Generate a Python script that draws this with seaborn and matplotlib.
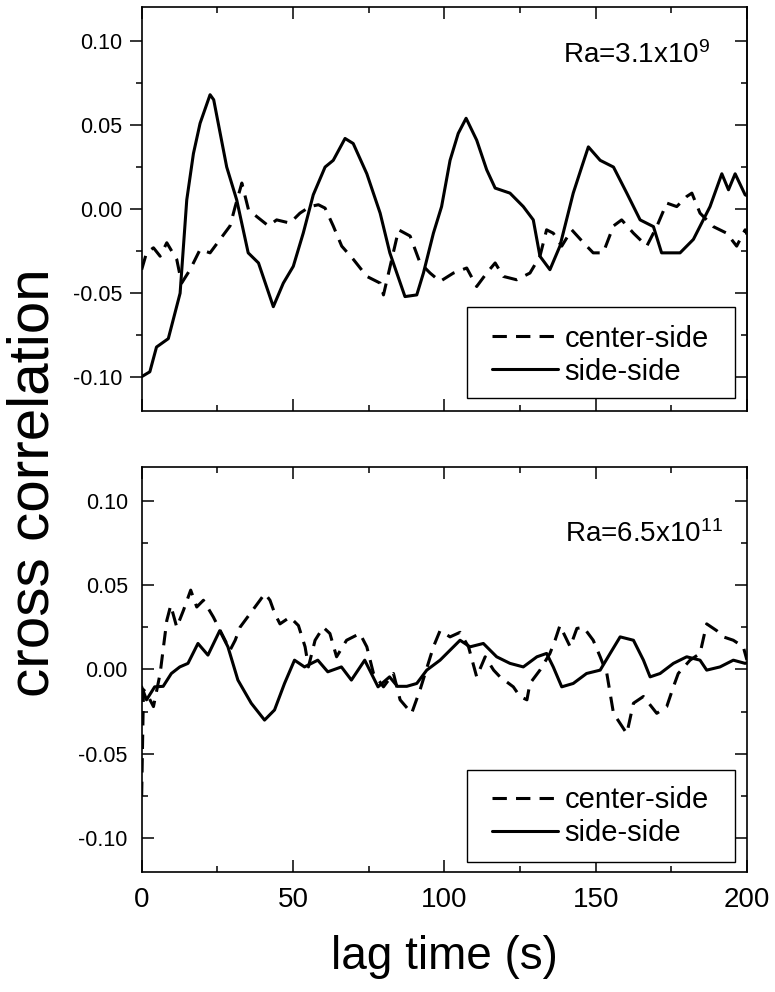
import numpy as np
import matplotlib
matplotlib.use("Agg")
import matplotlib.pyplot as plt
from matplotlib.ticker import MultipleLocator
from matplotlib.patches import Rectangle
import seaborn as sns

# ---------------- data ----------------
# top panel, Ra = 3.1x10^9
top_side_t = [0, 2.7, 4.9, 8.8, 12.7, 14.9, 17.1, 19.3, 22.6, 23.8,
              28.1, 31.4, 35.2, 38.6, 43.5, 46.8, 50.1, 53.4, 56.7, 60.6,
              63.3, 67.2, 69.9, 74.4, 78.8, 82, 87, 90.9, 93.1, 96.4,
              99.1, 101.9, 104.6, 107.2, 110.7, 114, 116.8, 121.7, 126.1, 129.4,
              131.6, 134.9, 138.2, 142.6, 145.4, 147.6, 151.5, 155.9, 160.3, 164.7,
              169.1, 171.8, 177.9, 182.3, 187.8, 191.7, 193.9, 196.1, 199.4, 200]
top_side_v = [-0.0996, -0.0967, -0.082, -0.077, -0.05, 0.0055, 0.033, 0.051, 0.068, 0.065,
              0.025, 0.0055, -0.026, -0.032, -0.058, -0.044, -0.034, -0.0142, 0.0085, 0.025,
              0.029, 0.042, 0.039, 0.021, -0.0024, -0.026, -0.052, -0.051, -0.038, -0.0143,
              0.0015, 0.029, 0.045, 0.054, 0.041, 0.0234, 0.0125, 0.0095, 0.0015, -0.0064,
              -0.028, -0.036, -0.022, 0.0095, 0.025, 0.037, 0.029, 0.025, 0.0095, -0.0064,
              -0.0104, -0.026, -0.026, -0.018, 0.0015, 0.021, 0.0115, 0.021, 0.0085, 0.008]

top_center_t = [0, 1.6, 3.9, 6.1, 8.3, 11.6, 13.2, 16, 19.3, 22.6,
                25.9, 29.2, 30.9, 33.1, 35.3, 38, 41.9, 44.6, 49, 52.3,
                55.6, 58.4, 60.6, 63.3, 66.1, 70, 74.4, 78.8, 79.9, 82.1,
                84.9, 88.7, 92, 95.3, 98.6, 103, 107.4, 110.7, 114, 116.8,
                119.5, 123.9, 128.3, 131.6, 133.8, 136, 138.8, 142.1, 146, 149.2,
                152.5, 155.9, 158.6, 162.5, 166.9, 170.2, 173.5, 176.8, 180.1, 181.8,
                184.5, 188.9, 193.3, 196.6, 199.4, 200]
top_center_v = [-0.036, -0.026, -0.023, -0.028, -0.020, -0.030, -0.044, -0.036, -0.024, -0.026,
                -0.018, -0.010, 0.0015, 0.0155, -0.0004, -0.0044, -0.010, -0.0064, -0.0083, -0.0024,
                0.0015, 0.0026, 0.0006, -0.010, -0.022, -0.030, -0.040, -0.044, -0.051, -0.034,
                -0.0123, -0.016, -0.032, -0.038, -0.043, -0.038, -0.035, -0.046, -0.038, -0.032,
                -0.040, -0.042, -0.038, -0.028, -0.0123, -0.0143, -0.022, -0.0123, -0.020, -0.026,
                -0.026, -0.010, -0.0064, -0.0143, -0.022, -0.0104, 0.0036, 0.0015, 0.0075, 0.0095,
                -0.0024, -0.0104, -0.0143, -0.022, -0.0123, -0.015]

# bottom panel, Ra = 6.5x10^11
bot_side_t = [0, 1.6, 4.3, 7.1, 9.8, 12.6, 15.3, 18.6, 21.9, 25.8,
              28.5, 31.8, 36.2, 40.6, 43.9, 47.2, 50.5, 53.8, 58.2, 61.5,
              66, 69.3, 73.7, 78.1, 81.9, 84.5, 87.6, 90.9, 94.2, 98.6,
              101.9, 105.2, 108.5, 112.9, 117.3, 121.7, 126.1, 130.6, 133.8, 136,
              138.8, 142.6, 147, 151.5, 154.8, 158.1, 162.5, 165.8, 168, 171.3,
              175.7, 180.1, 184.5, 186.7, 191.1, 195.5, 199.4, 200]
bot_side_v = [-0.0103, -0.018, -0.0103, -0.010, -0.0024, 0.0015, 0.0036, 0.0154, 0.0085, 0.023,
              0.0134, -0.0063, -0.020, -0.030, -0.024, -0.0083, 0.0055, 0.0015, 0.0055, -0.0014,
              0.0015, -0.0063, 0.0055, -0.0103, -0.0044, -0.010, -0.010, -0.0083, -0.0004, 0.0055,
              0.0114, 0.0173, 0.0134, 0.0154, 0.0075, 0.0036, 0.0015, 0.0075, 0.0095, 0.0015,
              -0.0103, -0.0083, -0.0024, -0.0004, 0.0095, 0.0193, 0.0173, 0.0055, -0.0044, -0.0024,
              0.0036, 0.0075, 0.0055, -0.0004, 0.0015, 0.0055, 0.0036, 0.004]

bot_center_t = [0, 0.6, 1.6, 3.9, 6.1, 8.3, 9.6, 11.6, 13.8, 16.2,
                18.2, 20.4, 23.7, 27, 29.2, 30.9, 32.5, 35.8, 39.1, 40.7,
                42.4, 44, 45.7, 49, 51.8, 54, 55.1, 57.3, 60, 62.2,
                64.4, 67.7, 72.1, 74.4, 76.6, 79.9, 83.2, 85.4, 89.2, 92,
                96.4, 98.6, 101.9, 105.2, 108, 110.7, 113.5, 116.3, 118.4, 122.8,
                125, 127.3, 128.3, 131.6, 134.9, 136.6, 138.2, 141.6, 143.8, 146,
                149.2, 151.5, 153.7, 155.9, 158.1, 160.3, 162.5, 165.8, 170.2, 173.5,
                175.7, 177.3, 181.2, 184.5, 186.7, 190, 192.2, 195.5, 198.8, 200]
bot_center_v = [-0.075, -0.012, -0.014, -0.022, -0.0024, 0.029, 0.038, 0.025, 0.035, 0.047,
                0.037, 0.041, 0.031, 0.0193, 0.0114, 0.0173, 0.025, 0.033, 0.041, 0.045,
                0.041, 0.033, 0.027, 0.031, 0.026, 0.0134, 0.0015, 0.0173, 0.025, 0.0213,
                0.0075, 0.0173, 0.0213, 0.0134, -0.0024, -0.0103, -0.0024, -0.018, -0.026, -0.012,
                0.0134, 0.023, 0.0193, 0.022, 0.0134, -0.0044, 0.0075, -0.0004, -0.0044, -0.0103,
                -0.016, -0.018, -0.0083, -0.0004, 0.0095, 0.0173, 0.026, 0.0134, 0.0243, 0.025,
                0.0173, 0.0075, -0.0024, -0.026, -0.032, -0.038, -0.020, -0.016, -0.026, -0.022,
                -0.0103, -0.0024, 0.0055, 0.0095, 0.027, 0.023, 0.0193, 0.0173, 0.0134, 0.0055]

labels = ["center-side", "side-side"]
ra_texts = ["Ra=3.1x10$^{9}$", "Ra=6.5x10$^{11}$"]
x_ticks = [0, 50, 100, 150, 200]
y_ticks = [-0.10, -0.05, 0.00, 0.05, 0.10]
y_ticklabels = ["-0.10", "-0.05", "0.00", "0.05", "0.10"]

# ---------------- style ----------------
sns.set_style("ticks")
plt.rcParams["font.family"] = ["Liberation Sans", "DejaVu Sans"]
plt.rcParams["mathtext.fontset"] = "custom"
plt.rcParams["mathtext.rm"] = "Liberation Sans"
plt.rcParams["mathtext.it"] = "Liberation Sans"
plt.rcParams["mathtext.default"] = "regular"
plt.rcParams["text.color"] = "black"
plt.rcParams["axes.labelcolor"] = "black"
plt.rcParams["xtick.color"] = "black"
plt.rcParams["ytick.color"] = "black"

fig = plt.figure(figsize=(7.75, 9.92), dpi=100)
ax_top = fig.add_axes([0.1828, 0.5857, 0.7810, 0.4070])
ax_bot = fig.add_axes([0.1828, 0.1210, 0.7810, 0.4083])

LW = 2.2
DASH = (4.7, 3.0)

panels = [
    # ax, center t, center v, side t, side v, Ra text, text x, text y, left ticks out,
    # legend box (x0, y0, x1, y1) axes fraction, legend anchor
    (ax_top, top_center_t, top_center_v, top_side_t, top_side_v, ra_texts[0], 188, 0.087, True,
     (0.537, 0.0315, 0.980, 0.258), (0.578, 0.214)),
    (ax_bot, bot_center_t, bot_center_v, bot_side_t, bot_side_v, ra_texts[1], 192, 0.0755, False,
     (0.537, 0.0254, 0.980, 0.252), (0.578, 0.212)),
]

for ax, ct, cv, st, sv, ra, ra_x, ra_y, left_out, box, anchor in panels:
    sns.lineplot(x=ct, y=cv, ax=ax, color="black", linewidth=LW,
                 estimator=None, sort=False, label=labels[0])
    ax.lines[-1].set_dashes(DASH)
    sns.lineplot(x=st, y=sv, ax=ax, color="black", linewidth=LW,
                 estimator=None, sort=False, label=labels[1])

    ax.set_xlim(0, 200)
    ax.set_ylim(-0.12, 0.12)
    ax.set_xlabel("")
    ax.set_ylabel("")
    ax.set_xticks(x_ticks)
    ax.xaxis.set_minor_locator(MultipleLocator(25))
    ax.set_yticks(y_ticks)
    ax.set_yticklabels(y_ticklabels)
    ax.yaxis.set_minor_locator(MultipleLocator(0.025))

    for sp in ax.spines.values():
        sp.set_visible(True)
        sp.set_linewidth(1.2)
        sp.set_color("black")

    ax.tick_params(axis="x", which="both", direction="in", top=True, bottom=True,
                   width=1.1, color="black", labelcolor="black")
    ax.tick_params(axis="x", which="major", length=8.6, labelsize=20, pad=11)
    ax.tick_params(axis="x", which="minor", length=4.5)

    if left_out:
        ax.tick_params(axis="y", which="both", direction="out", left=True, right=False,
                       width=1.1, color="black", labelcolor="black")
        ax.tick_params(axis="y", which="major", length=8.6, labelsize=15.5, pad=5.5)
        ax.tick_params(axis="y", which="minor", length=4.5)
        sec = ax.secondary_yaxis("right")
        sec.set_yticks(y_ticks)
        sec.yaxis.set_minor_locator(MultipleLocator(0.025))
        sec.tick_params(axis="y", which="both", direction="in", labelright=False,
                        width=1.1, color="black")
        sec.tick_params(axis="y", which="major", length=8.6)
        sec.tick_params(axis="y", which="minor", length=4.5)
        sec.spines["right"].set_linewidth(1.2)
    else:
        ax.tick_params(axis="y", which="both", direction="in", left=True, right=True,
                       width=1.1, color="black", labelcolor="black")
        ax.tick_params(axis="y", which="major", length=8.6, labelsize=15.5, pad=10)
        ax.tick_params(axis="y", which="minor", length=4.5)

    if ax is ax_top:
        ax.tick_params(axis="x", labelbottom=False)

    ax.text(ra_x, ra_y, ra, ha="right", va="baseline", fontsize=20, color="black")

    # legend frame drawn as its own rectangle (reference box is wider than its content)
    x0, y0, x1, y1 = box
    ax.add_patch(Rectangle((x0, y0), x1 - x0, y1 - y0, transform=ax.transAxes,
                           facecolor="white", edgecolor="black", linewidth=1.0, zorder=4))
    leg = ax.legend(loc="upper left", bbox_to_anchor=anchor, fontsize=21, frameon=False,
                    handlelength=2.28, handletextpad=0.23, borderpad=0.0,
                    labelspacing=0.17, borderaxespad=0.0)
    leg.set_zorder(5)

fig.text(0.043, 0.513, "cross correlation", rotation=90, ha="center", va="center",
         fontsize=42, color="black")
fig.text(0.573, 0.035, "lag time (s)", ha="center", va="center",
         fontsize=33, color="black")

fig.savefig("out.png", dpi=100)
